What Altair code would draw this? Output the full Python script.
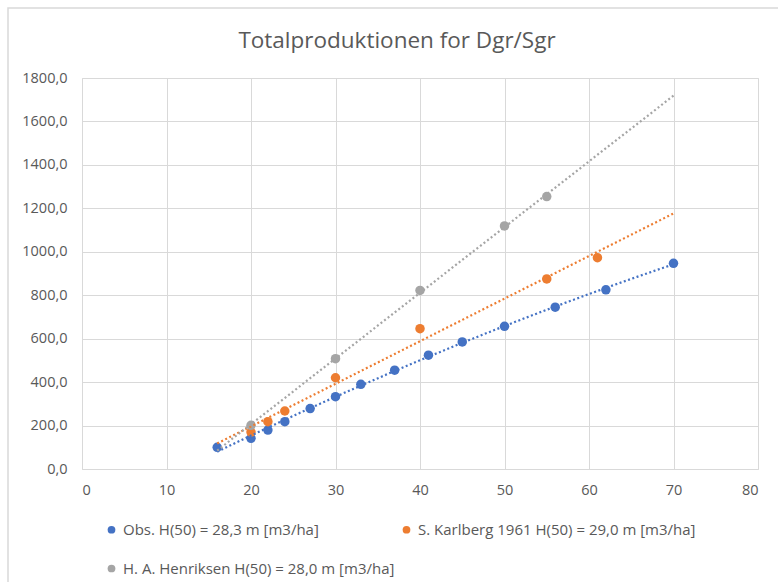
import altair as alt
import pandas as pd

chart_title = "Totalproduktionen for Dgr/Sgr"
series_names = [
    "Obs. H(50) = 28,3 m [m3/ha]",
    "S. Karlberg 1961 H(50) = 29,0 m [m3/ha]",
    "H. A. Henriksen H(50) = 28,0 m [m3/ha]",
]
colors = ["#4472C4", "#ED7D31", "#A5A5A5"]

obs_x = [16, 20, 22, 24, 27, 30, 33, 37, 41, 45, 50, 56, 62, 70]
obs_y = [100, 141, 179, 218, 278, 333, 390, 455, 524, 585, 657, 745, 825, 947]
kar_x = [20, 22, 24, 30, 40, 55, 61]
kar_y = [170, 218, 267, 420, 646, 875, 973]
hen_x = [20, 30, 40, 50, 55]
hen_y = [201, 508, 822, 1119, 1254]

rows = []
for name, xs, ys in [(series_names[0], obs_x, obs_y),
                     (series_names[1], kar_x, kar_y),
                     (series_names[2], hen_x, hen_y)]:
    for a, b in zip(xs, ys):
        rows.append({"serie": name, "alder": a, "prod": b})
df = pd.DataFrame(rows)

FONT = "Open Sans"
TXT = "#595959"
GRID = "#d9d9d9"

color_scale = alt.Scale(domain=series_names, range=colors)

x_enc = alt.X("alder:Q", scale=alt.Scale(domain=[0, 80], nice=False),
              axis=alt.Axis(values=list(range(0, 81, 10)), title=None,
                            grid=True, gridColor=GRID, domain=False, ticks=False,
                            labelColor=TXT, labelFont=FONT, labelFontSize=14.5,
                            labelPadding=14))
y_enc = alt.Y("prod:Q", scale=alt.Scale(domain=[0, 1800], nice=False),
              axis=alt.Axis(values=list(range(0, 1801, 200)), title=None,
                            grid=True, gridColor=GRID, domain=False, ticks=False,
                            labelColor=TXT, labelFont=FONT, labelFontSize=14.5,
                            labelPadding=15,
                            labelExpr="replace(format(datum.value, '.1f'), '.', ',')"))

base = alt.Chart(df)
one = pd.DataFrame({"t": [chart_title]})

frame = alt.Chart(one).mark_rect(
    filled=False, stroke="#d9d9d9", strokeWidth=1.5, clip=False
).encode(
    x=alt.value(-74), x2=alt.value(710), y=alt.value(-70), y2=alt.value(520)
)

title_mark = alt.Chart(one).mark_text(
    font=FONT, fontSize=22.5, color=TXT, align="center", baseline="middle", clip=False
).encode(
    text="t:N", x=alt.value(315), y=alt.value(-37)
)

line_style = dict(strokeDash=[2, 2.5], strokeWidth=2.2, clip=False)

line_obs = base.transform_filter(
    alt.datum.serie == series_names[0]
).transform_regression(
    "alder", "prod", groupby=["serie"], extent=[16, 70], method="poly", order=2
).mark_line(**line_style).encode(
    x=alt.X("alder:Q"),
    y=alt.Y("prod:Q"),
    color=alt.Color("serie:N", scale=color_scale, legend=None),
)

line_other = base.transform_filter(
    alt.datum.serie != series_names[0]
).transform_regression(
    "alder", "prod", groupby=["serie"], extent=[16, 70], method="linear"
).mark_line(**line_style).encode(
    x=alt.X("alder:Q"),
    y=alt.Y("prod:Q"),
    color=alt.Color("serie:N", scale=color_scale, legend=None),
)

points = base.mark_circle(size=90, opacity=1).encode(
    x=x_enc,
    y=y_enc,
    color=alt.Color("serie:N", scale=color_scale, sort=series_names,
                    legend=alt.Legend(title=None, orient="none", legendX=22, legendY=444,
                                      direction="horizontal",
                                      columns=2, columnPadding=4, rowPadding=23,
                                      symbolType="circle", symbolSize=60,
                                      labelLimit=0, labelOffset=4,
                                      labelFont=FONT, labelFontSize=15, labelColor=TXT,
                                      symbolStrokeWidth=0)),
)

chart = alt.layer(points, frame, title_mark, line_obs, line_other).properties(
    width=676, height=391,
    padding={"left": 82, "top": 78, "right": 20, "bottom": 113},
    autosize=alt.AutoSizeParams(type="none"),
).configure_view(stroke=None).configure(background="white")

chart.save("out.html", embed_options={"renderer": "svg", "actions": False})
